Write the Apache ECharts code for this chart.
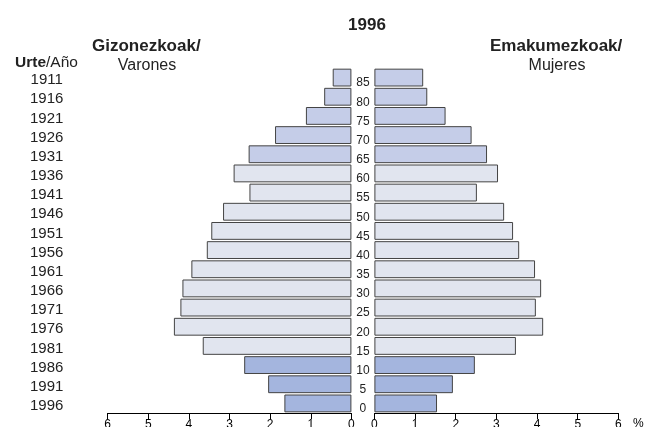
<!DOCTYPE html>
<html>
<head>
<meta charset="utf-8">
<script src="https://cdn.jsdelivr.net/npm/echarts@6/dist/echarts.min.js"></script>
<style>
html,body{margin:0;padding:0;background:#fff;}
#chart{width:645px;height:427px;}
</style>
</head>
<body>
<div id="chart"></div>
<script>
// Age groups, bottom to top
var ages = ['0','5','10','15','20','25','30','35','40','45','50','55','60','65','70','75','80','85'];
// Birth years, bottom to top
var years = ['1996','1991','1986','1981','1976','1971','1966','1961','1956','1951','1946','1941','1936','1931','1926','1921','1916','1911'];
// Percentages (Gizonezkoak / Varones)
var male = [1.65, 2.05, 2.64, 3.66, 4.37, 4.21, 4.16, 3.94, 3.56, 3.45, 3.16, 2.51, 2.90, 2.53, 1.88, 1.12, 0.67, 0.46];
// Percentages (Emakumezkoak / Mujeres)
var female = [1.54, 1.93, 2.47, 3.48, 4.15, 3.97, 4.10, 3.95, 3.56, 3.41, 3.19, 2.52, 3.04, 2.77, 2.39, 1.75, 1.30, 1.20];
var xTicks = [0, 1, 2, 3, 4, 5, 6];

var FONT = "'Liberation Sans', Arial, sans-serif";
function barColor(p) {
  var i = p.dataIndex;
  if (i <= 2) return '#a4b5de';
  if (i <= 12) return '#e1e5ef';
  return '#c5cde8';
}
var chart = echarts.init(document.getElementById('chart'), null, {renderer: 'canvas'});
var xCommon = {
  type: 'value', min: xTicks[0], max: xTicks[xTicks.length - 1], interval: 1,
  splitLine: {show: false},
  axisLine: {show: true, lineStyle: {color: '#000', width: 1}},
  axisTick: {show: true, length: 6, lineStyle: {color: '#000'}},
  axisLabel: {color: '#000', fontSize: 12, fontFamily: FONT, margin: 6}
};
var option = {
  animation: false,
  backgroundColor: '#fff',
  textStyle: {fontFamily: FONT},
  title: {
    text: '1996', left: 362, top: 12, textAlign: 'center',
    textStyle: {fontSize: 17, fontWeight: 'bold', color: '#222', fontFamily: FONT}
  },
  graphic: [
    {type: 'text', left: 92, top: 38, style: {text: 'Gizonezkoak/', font: "bold 17px 'Liberation Sans', Arial", fill: '#222'}},
    {type: 'text', x: 147, y: 66, style: {text: 'Varones', font: "16px 'Liberation Sans', Arial", fill: '#222', align: 'center', verticalAlign: 'middle'}},
    {type: 'text', left: 490, top: 38, style: {text: 'Emakumezkoak/', font: "bold 17px 'Liberation Sans', Arial", fill: '#222'}},
    {type: 'text', x: 557, y: 66, style: {text: 'Mujeres', font: "16px 'Liberation Sans', Arial", fill: '#222', align: 'center', verticalAlign: 'middle'}},
    {type: 'text', left: 15, top: 55, style: {
      text: '{b|Urte}{n|/Año}',
      rich: {b: {font: "bold 15.5px 'Liberation Sans', Arial", fill: '#222'}, n: {font: "15.5px 'Liberation Sans', Arial", fill: '#222'}}
    }},
    {type: 'text', x: 633, y: 418, style: {text: '%', font: "12px 'Liberation Sans', Arial", fill: '#000'}}
  ],
  grid: [
    {left: 107.7, width: 243.7, top: 68, height: 345, outerBoundsMode: 'none', containLabel: false},
    {left: 374.4, width: 244, top: 68, height: 345, outerBoundsMode: 'none', containLabel: false}
  ],
  xAxis: [
    Object.assign({}, xCommon, {gridIndex: 0, inverse: true}),
    Object.assign({}, xCommon, {gridIndex: 1})
  ],
  yAxis: [
    {type: 'category', gridIndex: 0, data: ages, position: 'right',
      axisLine: {show: false}, axisTick: {show: false},
      axisLabel: {interval: 0, align: 'center', verticalAlign: 'top', lineHeight: 11, margin: 11.5, color: '#222', fontSize: 12, fontFamily: FONT}},
    {type: 'category', gridIndex: 0, data: years, position: 'left',
      axisLine: {show: false}, axisTick: {show: false},
      axisLabel: {interval: 0, align: 'center', verticalAlign: 'top', lineHeight: 5, margin: 61, color: '#222', fontSize: 15, fontFamily: FONT}},
    {type: 'category', gridIndex: 1, data: ages,
      axisLine: {show: false}, axisTick: {show: false}, axisLabel: {show: false}}
  ],
  series: [
    {type: 'bar', name: 'Gizonezkoak/Varones', xAxisIndex: 0, yAxisIndex: 0, data: male,
      barCategoryGap: '7%',
      itemStyle: {color: barColor, borderColor: '#444', borderWidth: 1}},
    {type: 'bar', name: 'Emakumezkoak/Mujeres', xAxisIndex: 1, yAxisIndex: 2, data: female,
      barCategoryGap: '7%',
      itemStyle: {color: barColor, borderColor: '#444', borderWidth: 1}}
  ]
};
chart.setOption(option);
</script>
</body>
</html>
